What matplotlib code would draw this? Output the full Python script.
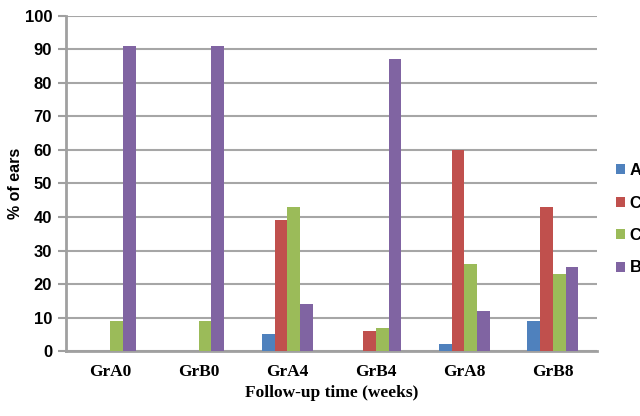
import matplotlib
matplotlib.use("Agg")
import matplotlib.pyplot as plt
import numpy as np

categories = ["GrA0", "GrB0", "GrA4", "GrB4", "GrA8", "GrB8"]
series_names = ["A", "C", "C", "B"]
vals_A = [0, 0, 5, 0, 2, 9]
vals_C1 = [0, 0, 39, 6, 60, 43]
vals_C2 = [9, 9, 43, 7, 26, 23]
vals_B = [91, 91, 14, 87, 12, 25]
yticks = [0, 10, 20, 30, 40, 50, 60, 70, 80, 90, 100]

colors = ["#4F81BD", "#C0504D", "#9BBB59", "#8064A2"]
series = [vals_A, vals_C1, vals_C2, vals_B]

fig = plt.figure(figsize=(6.4, 4.16), dpi=100)
ax = fig.add_axes([0.103, 0.156, 0.830, 0.806])

x = np.arange(len(categories))
w = 0.144
handles = []
for i, (s, c) in enumerate(zip(series, colors)):
    h = ax.bar(x + (i - 1.5) * w, s, width=w, color=c, label=series_names[i], zorder=3)
    handles.append(h)

ax.set_xlim(-0.5, len(categories) - 0.5)
ax.set_ylim(0, 100)
ax.set_yticks(yticks)
ax.set_yticklabels([str(t) for t in yticks], fontsize=12, fontweight="bold", family="Liberation Sans")
ax.set_xticks(x)
ax.set_xticklabels(categories, fontsize=12.5, fontweight="bold", family="Liberation Serif")
ax.grid(axis="y", color="#A6A6A6", linewidth=1.5, zorder=0)
ax.set_axisbelow(True)
for sp in ["top", "right"]:
    ax.spines[sp].set_visible(False)
ax.spines["left"].set_color("#A0A0A0")
ax.spines["left"].set_linewidth(2)
ax.spines["bottom"].set_color("#A0A0A0")
ax.spines["bottom"].set_linewidth(2)
ax.tick_params(axis="y", length=6, width=1.5, color="#A0A0A0", pad=4)
ax.tick_params(axis="x", length=0, pad=9)
ax.set_ylabel("% of ears", fontsize=11.5, fontweight="bold", family="Liberation Sans", labelpad=1)
ax.set_xlabel("Follow-up time (weeks)", fontsize=12.5, fontweight="bold", family="Liberation Serif", labelpad=4)

fig.legend(handles=handles, labels=series_names, loc="upper left",
           bbox_to_anchor=(0.963, 1 - 163 / 416), frameon=False,
           prop={"family": "Liberation Sans", "weight": "bold", "size": 12},
           handlelength=0.55, handleheight=0.55, handletextpad=0.25, labelspacing=1.05,
           borderpad=0, borderaxespad=0)

fig.savefig("out.png", dpi=100)
